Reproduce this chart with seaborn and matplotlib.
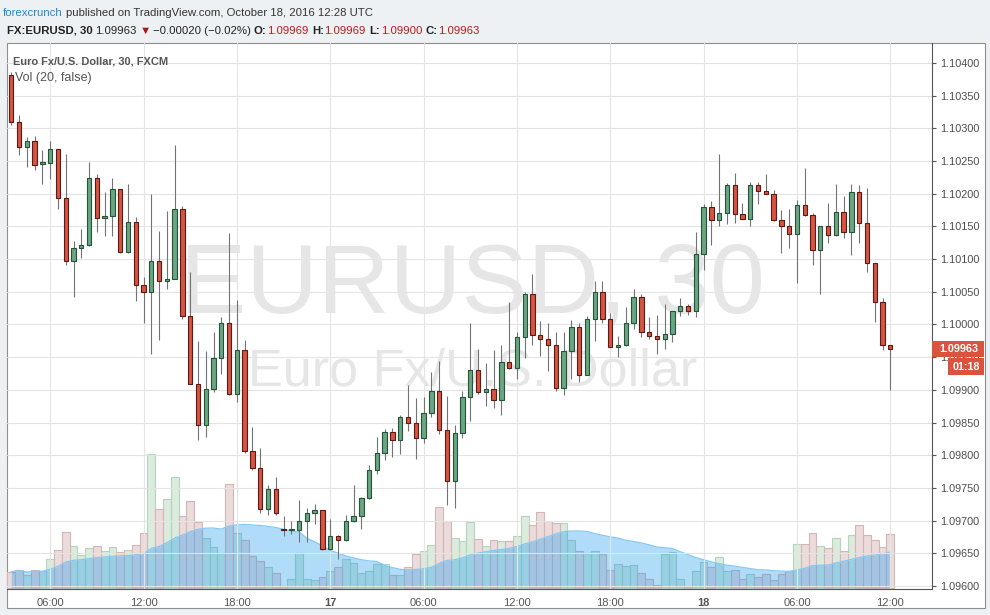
"""EURUSD 30-minute candles with 20-bar volume MA, TradingView-style snapshot."""

import matplotlib

matplotlib.use("Agg")
import matplotlib.pyplot as plt  # noqa: E402
import numpy as np  # noqa: E402
import pandas as pd  # noqa: E402
import seaborn as sns  # noqa: E402
from matplotlib.patches import Rectangle  # noqa: E402
from matplotlib.ticker import FormatStrFormatter  # noqa: E402

# FXCM EURUSD, 30-minute bars, 16 Oct 03:30 -> 18 Oct 12:00 (114 bars)
opens = [
    1.10382, 1.10309, 1.10272, 1.10281, 1.10245, 1.10247, 1.10268, 1.10194, 1.10097, 1.10117,
    1.10122, 1.10224, 1.10163, 1.10166, 1.10207, 1.10111, 1.10157, 1.10060, 1.10049, 1.10097,
    1.10067, 1.10070, 1.10177, 1.10013, 1.09909, 1.09847, 1.09901, 1.09949, 1.10003, 1.09894,
    1.09961, 1.09807, 1.09780, 1.09718, 1.09748, 1.09687, 1.09686, 1.09685, 1.09700, 1.09711,
    1.09716, 1.09656, 1.09676, 1.09670, 1.09699, 1.09707, 1.09734, 1.09778, 1.09804, 1.09835,
    1.09823, 1.09858, 1.09849, 1.09826, 1.09864, 1.09899, 1.09839, 1.09761, 1.09834, 1.09889,
    1.09931, 1.09896, 1.09902, 1.09884, 1.09943, 1.09933, 1.09981, 1.10046, 1.09984, 1.09978,
    1.09969, 1.09903, 1.09960, 1.09996, 1.09923, 1.10009, 1.10049, 1.10009, 1.09966, 1.09969,
    1.10003, 1.10042, 1.09989, 1.09983, 1.09978, 1.09986, 1.10020, 1.10028, 1.10020, 1.10108,
    1.10179, 1.10160, 1.10170, 1.10214, 1.10169, 1.10161, 1.10214, 1.10204, 1.10200, 1.10160,
    1.10150, 1.10138, 1.10183, 1.10167, 1.10114, 1.10151, 1.10137, 1.10172, 1.10141, 1.10203,
    1.10155, 1.10094, 1.10035, 1.09969,
]
highs = [
    1.10386, 1.10320, 1.10287, 1.10288, 1.10267, 1.10280, 1.10268, 1.10261, 1.10127, 1.10146,
    1.10249, 1.10230, 1.10203, 1.10224, 1.10207, 1.10215, 1.10165, 1.10072, 1.10200, 1.10143,
    1.10174, 1.10275, 1.10181, 1.10081, 1.09974, 1.09960, 1.09989, 1.10012, 1.10140, 1.10038,
    1.09977, 1.09843, 1.09811, 1.09755, 1.09767, 1.09707, 1.09699, 1.09731, 1.09719, 1.09725,
    1.09717, 1.09703, 1.09678, 1.09708, 1.09755, 1.09736, 1.09785, 1.09828, 1.09840, 1.09841,
    1.09861, 1.09907, 1.09887, 1.09889, 1.09928, 1.09944, 1.09890, 1.09846, 1.09899, 1.10003,
    1.09963, 1.09941, 1.09961, 1.09968, 1.10035, 1.09988, 1.10049, 1.10078, 1.10006, 1.10002,
    1.09989, 1.09988, 1.10007, 1.10003, 1.10013, 1.10066, 1.10067, 1.10017, 1.09983, 1.10027,
    1.10055, 1.10046, 1.10012, 1.10014, 1.10032, 1.10020, 1.10041, 1.10031, 1.10142, 1.10184,
    1.10189, 1.10261, 1.10217, 1.10232, 1.10186, 1.10218, 1.10218, 1.10230, 1.10206, 1.10175,
    1.10177, 1.10190, 1.10240, 1.10170, 1.10151, 1.10186, 1.10215, 1.10197, 1.10215, 1.10213,
    1.10209, 1.10094, 1.10041, 1.09969,
]
lows = [
    1.10305, 1.10260, 1.10241, 1.10236, 1.10215, 1.10223, 1.10176, 1.10091, 1.10042, 1.10101,
    1.10120, 1.10141, 1.10135, 1.10135, 1.10110, 1.10110, 1.10036, 1.10002, 1.09955, 1.09976,
    1.10054, 1.10069, 1.10008, 1.09909, 1.09824, 1.09828, 1.09897, 1.09924, 1.09892, 1.09882,
    1.09804, 1.09778, 1.09711, 1.09708, 1.09709, 1.09677, 1.09680, 1.09668, 1.09667, 1.09695,
    1.09655, 1.09655, 1.09641, 1.09669, 1.09698, 1.09687, 1.09733, 1.09772, 1.09792, 1.09798,
    1.09802, 1.09837, 1.09795, 1.09818, 1.09858, 1.09832, 1.09724, 1.09719, 1.09826, 1.09852,
    1.09893, 1.09875, 1.09872, 1.09862, 1.09932, 1.09916, 1.09949, 1.09969, 1.09952, 1.09929,
    1.09899, 1.09892, 1.09917, 1.09912, 1.09922, 1.09975, 1.10002, 1.09965, 1.09950, 1.09967,
    1.09993, 1.09981, 1.09978, 1.09955, 1.09963, 1.09973, 1.10013, 1.10014, 1.10012, 1.10083,
    1.10121, 1.10150, 1.10153, 1.10156, 1.10161, 1.10150, 1.10185, 1.10199, 1.10159, 1.10110,
    1.10117, 1.10063, 1.10166, 1.10091, 1.10047, 1.10124, 1.10135, 1.10133, 1.10106, 1.10124,
    1.10080, 1.10004, 1.09961, 1.09900,
]
closes = [
    1.10309, 1.10272, 1.10281, 1.10244, 1.10249, 1.10268, 1.10194, 1.10097, 1.10117, 1.10122,
    1.10224, 1.10163, 1.10166, 1.10207, 1.10111, 1.10157, 1.10060, 1.10049, 1.10097, 1.10067,
    1.10070, 1.10177, 1.10013, 1.09909, 1.09847, 1.09901, 1.09949, 1.10003, 1.09894, 1.09961,
    1.09807, 1.09780, 1.09718, 1.09748, 1.09711, 1.09686, 1.09687, 1.09700, 1.09711, 1.09716,
    1.09656, 1.09676, 1.09670, 1.09699, 1.09707, 1.09734, 1.09778, 1.09804, 1.09835, 1.09823,
    1.09858, 1.09849, 1.09826, 1.09864, 1.09899, 1.09839, 1.09761, 1.09834, 1.09889, 1.09931,
    1.09896, 1.09902, 1.09884, 1.09943, 1.09933, 1.09981, 1.10046, 1.09984, 1.09978, 1.09969,
    1.09903, 1.09960, 1.09996, 1.09923, 1.10009, 1.10049, 1.10009, 1.09966, 1.09969, 1.10003,
    1.10042, 1.09989, 1.09983, 1.09978, 1.09986, 1.10020, 1.10028, 1.10020, 1.10108, 1.10179,
    1.10160, 1.10170, 1.10214, 1.10169, 1.10161, 1.10214, 1.10204, 1.10200, 1.10160, 1.10150,
    1.10138, 1.10183, 1.10167, 1.10114, 1.10151, 1.10137, 1.10172, 1.10141, 1.10203, 1.10155,
    1.10094, 1.10035, 1.09969, 1.09963,
]
# relative tick volume per bar (no scale shown on the chart)
volumes = [
    16, 18, 13, 18, 17, 29, 38, 56, 42, 33,
    40, 42, 37, 41, 36, 38, 43, 55, 134, 79,
    89, 111, 72, 87, 66, 50, 41, 35, 104, 55,
    48, 32, 27, 21, 15, 2, 9, 35, 9, 8,
    11, 17, 21, 29, 25, 15, 17, 24, 24, 13,
    13, 21, 34, 37, 43, 81, 67, 50, 47, 66,
    49, 42, 48, 47, 47, 52, 72, 63, 76, 67,
    65, 65, 48, 37, 35, 37, 34, 18, 24, 22,
    23, 15, 9, 3, 34, 36, 9, 2, 17, 26,
    21, 31, 17, 18, 9, 14, 11, 14, 8, 14,
    17, 44, 44, 55, 42, 40, 50, 37, 53, 63,
    53, 48, 41, 54,
]

tick_bars = [5, 17, 29, 41, 53, 65, 77, 89, 101, 113]
tick_labels = ["06:00", "12:00", "18:00", "17", "06:00", "12:00", "18:00", "18", "06:00", "12:00"]
day_labels = ["17", "18"]
price_ticks = [1.09600, 1.09650, 1.09700, 1.09750, 1.09800, 1.09850, 1.09900, 1.09950, 1.10000,
               1.10050, 1.10100, 1.10150, 1.10200, 1.10250, 1.10300, 1.10350, 1.10400]
countdown = "01:18"

UP, DOWN = "#6ba583", "#d75442"
UP_EDGE, DOWN_EDGE = "#225437", "#5b1a13"
RED_TEXT = "#b71c1c"
W, H = 990, 615
LEFT, RIGHT, TOP, BOTTOM = 6.7, 932.3, 42.7, 589.3  # plot box, pixels


def fx(px):
    return px / W


def fy(py):
    return 1 - py / H


sns.set_theme(style="white")
plt.rcParams["font.family"] = ["Liberation Sans", "DejaVu Sans"]
sans = ["Liberation Sans", "DejaVu Sans"]

fig = plt.figure(figsize=(W / 100, H / 100), dpi=100, facecolor="#eef1f4")
fig.add_artist(Rectangle((fx(LEFT), fy(608)), fx(985) - fx(LEFT), fy(TOP) - fy(608),
                         transform=fig.transFigure, facecolor="white",
                         edgecolor="#8f8f8f", lw=0.8, zorder=-5))

ax = fig.add_axes([fx(LEFT), fy(BOTTOM), fx(RIGHT) - fx(LEFT), fy(TOP) - fy(BOTTOM)])
vax = ax.twinx()
ax.set_zorder(2)
vax.set_zorder(1)
ax.patch.set_visible(False)
vax.patch.set_visible(False)

o, h, l, c = (np.asarray(a) for a in (opens, highs, lows, closes))
idx = np.arange(len(o))
up = c >= o

# volume bars + 20-bar moving average area
vol = pd.DataFrame({"bar": idx, "volume": volumes, "side": np.where(up, "up", "down")})
vol["ma"] = vol["volume"].rolling(20, min_periods=1).mean()
for side, face, edge in (("up", "#dbebdd", "#b3d5bb"), ("down", "#ebdbdb", "#d4b6b6")):
    sns.barplot(data=vol[vol["side"] == side], x="bar", y="volume", native_scale=True,
                width=1.0, color=face, saturation=1, edgecolor=edge, linewidth=0.8,
                errorbar=None, ax=vax, zorder=1)
vax.fill_between(vol["bar"], vol["ma"], color="#1d9bf0", alpha=0.35, lw=0, zorder=2)
sns.lineplot(data=vol, x="bar", y="ma", color="#86c8f3", lw=0.9, ax=vax, zorder=3)
vax.set_ylim(-1.6, 544.4)
vax.set(xlabel="", ylabel="", yticks=[])
for spine in vax.spines.values():
    spine.set_visible(False)

# candles
body_lo = np.minimum(o, c)
body_h = np.maximum(np.abs(c - o), 0.000012)
ax.vlines(idx, l, h, color="#737375", lw=0.8, zorder=3)
ax.bar(idx[up], body_h[up], bottom=body_lo[up], width=0.56, color=UP,
       edgecolor=UP_EDGE, lw=0.8, zorder=4)
ax.bar(idx[~up], body_h[~up], bottom=body_lo[~up], width=0.56, color=DOWN,
       edgecolor=DOWN_EDGE, lw=0.8, zorder=4)

ax.set_xlim(-0.59, 118.4)
ax.set_ylim(1.09595, 1.10431)
ax.set_xticks(tick_bars)
ax.set_xticklabels(tick_labels)
ax.set_yticks(price_ticks)
ax.yaxis.tick_right()
ax.yaxis.set_major_formatter(FormatStrFormatter("%.5f"))
ax.grid(True, color="#e4e4e4", lw=0.8)
ax.set_axisbelow(True)
ax.tick_params(axis="x", length=0, pad=6, labelsize=8, labelcolor="#555555")
ax.tick_params(axis="y", length=3, width=0.8, color="#555555", pad=3,
               labelsize=7.8, labelcolor="#4d4d4d")
for label in ax.get_xticklabels():
    if label.get_text() in day_labels:
        label.set_fontweight("bold")
for name, spine in ax.spines.items():
    spine.set_visible(name in ("right", "bottom"))
    spine.set_color("#555555")
    spine.set_linewidth(0.8)

# watermark and pane titles
ax.text(0.503, 0.5055, "EURUSD, 30", transform=ax.transAxes, ha="center", va="baseline",
        fontsize=71.5, color="#e6e6e6", zorder=1)
ax.text(0.503, 0.372, "Euro Fx/U.S. Dollar", transform=ax.transAxes, ha="center",
        va="baseline", fontsize=37.5, color="#e6e6e6", zorder=1)
fig.text(fx(13), fy(62), "Euro Fx/U.S. Dollar, 30, FXCM", fontsize=7.9, fontweight="bold",
         color="#555555", va="center", family=sans)
fig.text(fx(15), fy(78), "Vol (20, false)", fontsize=9, color="#555555", va="center",
         family=sans)

# header lines
renderer = fig.canvas.get_renderer()


def text_run(x, y, parts, size):
    for gap, s, color, weight in parts:
        t = fig.text(fx(x + gap), fy(y), s, color=color, fontsize=size, fontweight=weight,
                     family=sans, ha="left", va="center")
        x = t.get_window_extent(renderer).x1


text_run(3.3, 12.5, [
    (0, "forexcrunch", "#1e88d0", "normal"),
    (3.0, "published on TradingView.com, October 18, 2016 12:28 UTC", "#333333", "normal"),
], 8.2)
text_run(6.7, 30.5, [
    (0, "FX:EURUSD, 30", "#222222", "bold"),
    (3.0, f"{closes[-1]:.5f}", "#222222", "normal"),
    (2.5, "▼", "#a51b1b", "normal"),
    (2.0, "−0.00020 (−0.02%)", "#222222", "normal"),
    (3.5, "O:", "#222222", "bold"),
    (0.5, f"{opens[-1]:.5f}", RED_TEXT, "normal"),
    (3.5, "H:", "#222222", "bold"),
    (0.5, f"{highs[-1]:.5f}", RED_TEXT, "normal"),
    (3.5, "L:", "#222222", "bold"),
    (0.5, f"{lows[-1]:.5f}", RED_TEXT, "normal"),
    (3.5, "C:", "#222222", "bold"),
    (0.5, f"{closes[-1]:.5f}", RED_TEXT, "normal"),
], 8.2)

# last-price marker and bar countdown on the price scale
fig.add_artist(Rectangle((fx(RIGHT), fy(357)), fx(984) - fx(RIGHT), fy(341) - fy(357),
                         transform=fig.transFigure, facecolor="#d9533f", lw=0, zorder=5))
fig.add_artist(Rectangle((fx(948), fy(374.5)), fx(984) - fx(948), fy(358) - fy(374.5),
                         transform=fig.transFigure, facecolor="#d9533f", lw=0, zorder=5))
fig.text(fx(958.5), fy(349), f"{closes[-1]:.5f}", color="white", fontsize=7.8,
         fontweight="bold", ha="center", va="center", zorder=6)
fig.text(fx(966), fy(366.5), countdown, color="white", fontsize=7.8, fontweight="bold",
         ha="center", va="center", zorder=6)

fig.savefig("out.png", dpi=100, facecolor=fig.get_facecolor())
